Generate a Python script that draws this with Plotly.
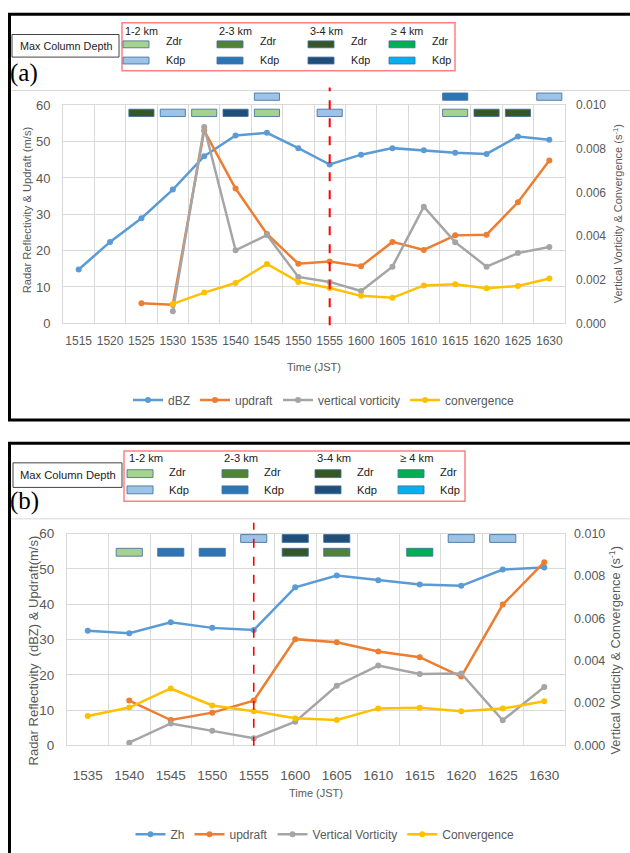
import plotly.graph_objects as go

W, H = 630, 853
FONT = "Liberation Sans, Arial, sans-serif"
TXT = "#595959"
GRID = "#d9d9d9"

# ---------------- panel (a) ----------------
times_a = ["1515", "1520", "1525", "1530", "1535", "1540", "1545", "1550",
           "1555", "1600", "1605", "1610", "1615", "1620", "1625", "1630"]
dbz_a = [14.8, 22.4, 28.9, 36.8, 46.0, 51.7, 52.4, 48.2,
         43.7, 46.4, 48.2, 47.6, 46.9, 46.6, 51.4, 50.5]
updraft_a = [None, None, 5.5, 5.1, 53.0, 37.1, 24.6, 16.4,
             17.0, 15.7, 22.4, 20.2, 24.2, 24.4, 33.3, 44.8]
vorticity_a = [None, None, None, 0.00055, 0.0090, 0.00335, 0.00405, 0.00213,
               0.0019, 0.00148, 0.0026, 0.00535, 0.00372, 0.0026, 0.00322, 0.0035]
convergence_a = [None, None, None, 0.00089, 0.00141, 0.00185, 0.00272, 0.0019,
                 0.00162, 0.00126, 0.00117, 0.00174, 0.00179, 0.00161, 0.00171, 0.00206]

# max column depth flags: time, variable, depth class index, row (0 lower, 1 upper)
col_times_a = ["1525", "1530", "1535", "1540", "1545", "1545", "1555", "1615", "1615", "1620", "1625", "1630"]
col_vars_a = ["Zdr", "Kdp", "Zdr", "Kdp", "Zdr", "Kdp", "Kdp", "Zdr", "Kdp", "Zdr", "Zdr", "Kdp"]
col_depth_a = [2, 0, 0, 2, 0, 0, 0, 0, 1, 2, 2, 0]
col_rows_a = [0, 0, 0, 0, 0, 1, 0, 0, 1, 0, 0, 1]

# ---------------- panel (b) ----------------
times_b = ["1535", "1540", "1545", "1550", "1555", "1600",
           "1605", "1610", "1615", "1620", "1625", "1630"]
zh_b = [32.5, 31.8, 34.9, 33.3, 32.7, 44.8, 48.1, 46.8, 45.6, 45.2, 49.8, 50.4]
updraft_b = [None, 12.7, 7.2, 9.3, 12.7, 30.1, 29.2, 26.6, 25.0, 19.5, 39.9, 51.9]
vorticity_b = [None, 0.00013, 0.00104, 0.00069, 0.00034, 0.00112,
               0.00282, 0.00377, 0.00337, 0.0034, 0.00119, 0.00276]
convergence_b = [0.00139, 0.00179, 0.00269, 0.00189, 0.00162, 0.00128,
                 0.0012, 0.00175, 0.00178, 0.00162, 0.00174, 0.00209]

col_times_b = ["1540", "1545", "1550", "1555", "1600", "1600", "1605", "1605", "1615", "1620", "1625"]
col_vars_b = ["Zdr", "Kdp", "Kdp", "Kdp", "Kdp", "Zdr", "Kdp", "Zdr", "Zdr", "Kdp", "Kdp"]
col_depth_b = [0, 1, 1, 0, 2, 2, 2, 1, 3, 0, 0]
col_rows_b = [0, 0, 0, 1, 1, 0, 1, 0, 0, 1, 1]

event_time = "1555"

# depth classes and their colours
depth_labels = ["1-2 km", "2-3 km", "3-4 km", "\u2265 4 km"]
zdr_colors = ["#a9d18e", "#548235", "#375623", "#00b050"]
kdp_colors = ["#9dc3e6", "#2e75b6", "#1f4e79", "#00b0f0"]

series_colors = ["#5b9bd5", "#ed7d31", "#a5a5a5", "#ffc000"]


def fx(px):
    return px / W


def fy(py):
    return 1 - py / H


fig = go.Figure()
shapes = []
annotations = []


def add_panel(times, left1, left2, right1, right2, names, xref, yref, y2ref, xb, yb, legend,
              c_times, c_vars, c_depth, c_rows, bar_w, bar_h):
    xs = list(range(len(times)))
    for vals, name, col, yr in zip([left1, left2, right1, right2], names,
                                   series_colors, [yref, yref, y2ref, y2ref]):
        fig.add_trace(go.Scatter(
            x=xs, y=vals, name=name, mode="lines+markers",
            line=dict(color=col, width=2.5), marker=dict(color=col, size=6),
            xaxis=xref, yaxis=yr, legend=legend, connectgaps=False,
            cliponaxis=False))
    # column-depth flags
    idx = [times.index(t) for t in c_times]
    colors = [(zdr_colors if v == "Zdr" else kdp_colors)[d] for v, d in zip(c_vars, c_depth)]
    fig.add_trace(go.Bar(
        x=idx, y=[bar_h] * len(idx), base=[r + 0.5 - bar_h / 2 for r in c_rows],
        width=bar_w, marker=dict(color=colors, line=dict(color="rgba(65,113,156,0.85)", width=1)),
        xaxis=xb, yaxis=yb, showlegend=False, hoverinfo="skip"))


add_panel(times_a, dbz_a, updraft_a, vorticity_a, convergence_a,
          ["dBZ", "updraft", "vertical vorticity", "convergence"],
          "x", "y", "y2", "x3", "y3", "legend",
          col_times_a, col_vars_a, col_depth_a, col_rows_a, 0.8, 0.45)
add_panel(times_b, zh_b, updraft_b, vorticity_b, convergence_b,
          ["Zh", "updraft", "Vertical Vorticity", "Convergence"],
          "x2", "y4", "y5", "x4", "y6", "legend2",
          col_times_b, col_vars_b, col_depth_b, col_rows_b, 0.63, 0.57)


def x_axis(times, dom, anchor, size, standoff):
    n = len(times)
    return dict(domain=dom, range=[-0.5, n - 0.5], anchor=anchor,
                tickmode="array", tickvals=list(range(n)), ticktext=times,
                showgrid=False, zeroline=False, ticks="",
                minor=dict(tickmode="array", tickvals=[i - 0.5 for i in range(n + 1)],
                           showgrid=True, gridcolor=GRID, gridwidth=1, ticks=""),
                showline=True, mirror=True, linecolor=GRID, linewidth=1,
                tickfont=dict(family=FONT, size=size, color=TXT),
                ticklabelstandoff=standoff)


def y_left(dom, anchor, size, standoff):
    return dict(domain=dom, anchor=anchor, range=[0, 60], tickvals=[0, 10, 20, 30, 40, 50, 60],
                showgrid=True, gridcolor=GRID, gridwidth=1, zeroline=False,
                showline=True, mirror=True, linecolor=GRID, ticks="",
                tickfont=dict(family=FONT, size=size, color=TXT), ticklabelstandoff=standoff)


def y_right(over, anchor, size, standoff):
    return dict(overlaying=over, anchor=anchor, side="right", range=[0, 0.010],
                tickvals=[0, 0.002, 0.004, 0.006, 0.008, 0.010], tickformat=".3f",
                showgrid=False, zeroline=False, showline=False, ticks="",
                tickfont=dict(family=FONT, size=size, color=TXT), ticklabelstandoff=standoff)


dom_xa = [fx(63), fx(565)]
dom_ya = [fy(322), fy(100)]
dom_xb = [fx(67), fx(565)]
dom_yb = [fy(751.7), fy(536)]

fig.update_layout(
    width=W, height=H, margin=dict(l=0, r=0, t=0, b=0),
    paper_bgcolor="white", plot_bgcolor="rgba(0,0,0,0)",
    barmode="overlay", showlegend=True,
    xaxis=x_axis(times_a, dom_xa, "y", 12, 6),
    yaxis=y_left(dom_ya, "x", 13, 9),
    yaxis2=y_right("y", "x", 12, 10),
    xaxis3=dict(domain=dom_xa, range=[-0.5, len(times_a) - 0.5], anchor="y3", visible=False),
    yaxis3=dict(domain=[fy(116), fy(83)], range=[0, 2], anchor="x3", visible=False),
    xaxis2=x_axis(times_b, dom_xb, "y4", 13.5, 17),
    yaxis4=y_left(dom_yb, "x2", 13.5, 9),
    yaxis5=y_right("y4", "x2", 12.5, 8),
    xaxis4=dict(domain=dom_xb, range=[-0.5, len(times_b) - 0.5], anchor="y6", visible=False),
    yaxis6=dict(domain=[fy(562), fy(534)], range=[0, 2], anchor="x4", visible=False),
    legend=dict(orientation="h", x=fx(324), xanchor="center", y=fy(400), yanchor="middle",
                font=dict(family=FONT, size=12, color=TXT), bgcolor="rgba(0,0,0,0)",
                itemwidth=30, tracegroupgap=0),
    legend2=dict(orientation="h", x=fx(325), xanchor="center", y=fy(842), yanchor="middle",
                 font=dict(family=FONT, size=12, color=TXT), bgcolor="rgba(0,0,0,0)",
                 itemwidth=30, tracegroupgap=0),
)

# panel frames and chart-area borders
shapes += [
    dict(type="rect", xref="paper", yref="paper", x0=fx(9.5), x1=fx(660), y0=fy(420.5), y1=fy(7.5),
         line=dict(color="black", width=3), layer="above"),
    dict(type="rect", xref="paper", yref="paper", x0=fx(9.5), x1=fx(660), y0=fy(900), y1=fy(444),
         line=dict(color="black", width=3), layer="above"),
    dict(type="line", xref="paper", yref="paper", x0=fx(11), x1=fx(630), y0=fy(85), y1=fy(85),
         line=dict(color=GRID, width=1), layer="below"),
    dict(type="line", xref="paper", yref="paper", x0=fx(11), x1=fx(630), y0=fy(521), y1=fy(521),
         line=dict(color=GRID, width=1), layer="below"),
]

# event lines
shapes += [
    dict(type="line", xref="x", yref="paper", x0=times_a.index(event_time), x1=times_a.index(event_time),
         y0=fy(324), y1=fy(82), line=dict(color="#ff0000", width=2, dash="dash")),
    dict(type="line", xref="x2", yref="paper", x0=times_b.index(event_time), x1=times_b.index(event_time),
         y0=fy(752), y1=fy(525), line=dict(color="#ff0000", width=1.6, dash="dash")),
]


def add_key(box, header_y, cols, rows_y, sw_h, text_dx, text_y, mcd_box, tag, tag_y, size):
    # red outline around the depth key
    shapes.append(dict(type="rect", xref="paper", yref="paper",
                       x0=fx(box[0]), x1=fx(box[2]), y0=fy(box[3]), y1=fy(box[1]),
                       line=dict(color="#ff8080", width=1.5)))
    for i, lab in enumerate(depth_labels):
        cx = cols[i]
        annotations.append(dict(text=lab, x=fx(cx), y=fy(header_y), xref="paper", yref="paper",
                                xanchor="left", yanchor="middle", showarrow=False,
                                font=dict(family=FONT, size=size, color="#222222")))
        for r, (var, palette) in enumerate([("Zdr", zdr_colors), ("Kdp", kdp_colors)]):
            shapes.append(dict(type="rect", xref="paper", yref="paper",
                               x0=fx(cx), x1=fx(cx + 26), y0=fy(rows_y[r] + sw_h / 2), y1=fy(rows_y[r] - sw_h / 2),
                               fillcolor=palette[i], line=dict(color="rgba(65,113,156,0.85)", width=1)))
            annotations.append(dict(text=var, x=fx(cx + text_dx), y=fy(text_y[r]), xref="paper", yref="paper",
                                    xanchor="left", yanchor="middle", showarrow=False,
                                    font=dict(family=FONT, size=size, color="#222222")))
    # caption box
    shapes.append(dict(type="rect", xref="paper", yref="paper",
                       x0=fx(mcd_box[0]), x1=fx(mcd_box[2]), y0=fy(mcd_box[3]), y1=fy(mcd_box[1]),
                       line=dict(color="#444444", width=1)))
    annotations.append(dict(text="Max Column Depth", x=fx((mcd_box[0] + mcd_box[2]) / 2),
                            y=fy((mcd_box[1] + mcd_box[3]) / 2), xref="paper", yref="paper",
                            xanchor="center", yanchor="middle", showarrow=False,
                            font=dict(family=FONT, size=size, color="#222222")))
    annotations.append(dict(text=tag, x=fx(8), y=fy(tag_y), xref="paper", yref="paper",
                            xanchor="left", yanchor="middle", showarrow=False,
                            font=dict(family="Liberation Serif, serif", size=25, color="black")))


add_key((122, 16, 455, 65), 24, [123, 217, 308, 389], [38, 54.5], 7, 41, [35, 54],
        (12, 28, 119, 51), "(a)", 67, 10.8)
add_key((124, 452, 465, 503), 459, [127, 222, 315, 398], [475, 491.5], 8, 40, [473, 492],
        (13, 464, 122, 489), "(b)", 503, 11.2)


def axis_text(text, x, y, size, angle=0):
    annotations.append(dict(text=text, x=fx(x), y=fy(y), xref="paper", yref="paper",
                            xanchor="center", yanchor="middle", showarrow=False, textangle=angle,
                            font=dict(family=FONT, size=size, color=TXT)))


axis_text("Radar Reflectivity & Updraft (m/s)", 27, 207, 11.2, -90)
axis_text("Vertical Vorticity & Convergence (s<sup>-1</sup>)", 618, 211, 11, -90)
axis_text("Time (JST)", 314, 366, 11)
axis_text("Radar Reflectivity  (dBZ) & Updraft(m/s)", 33, 655, 13, -90)
axis_text("Vertical Vorticity & Convergence (s<sup>-1</sup>)", 615, 655, 12.8, -90)
axis_text("Time (JST)", 316, 800, 11)

fig.update_layout(shapes=shapes, annotations=annotations)
fig.write_html("out.html")
